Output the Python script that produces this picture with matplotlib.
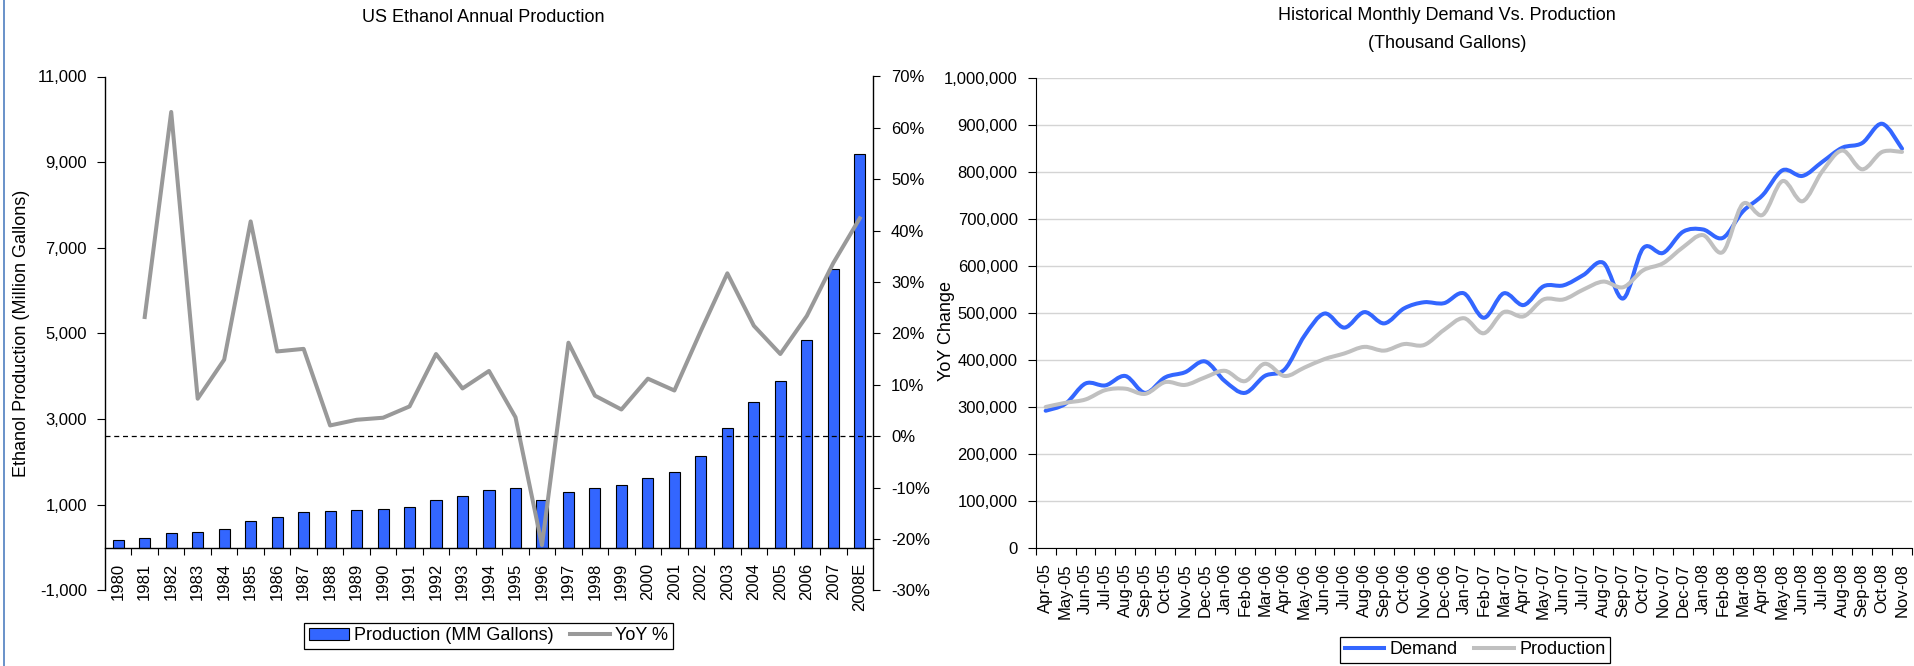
import numpy as np
import matplotlib
matplotlib.use('Agg')
import matplotlib.pyplot as plt
from matplotlib import font_manager
from matplotlib.path import Path
from matplotlib.patches import PathPatch, Patch
from matplotlib.lines import Line2D
from matplotlib.ticker import FuncFormatter, FixedLocator, NullFormatter

plt.rcParams['font.family'] = ['Liberation Sans', 'DejaVu Sans']
_names = {f.name for f in font_manager.fontManager.ttflist}
if 'Liberation Sans Narrow' in _names:
    TICK_FAMILY, TICK = 'Liberation Sans Narrow', 14
else:
    TICK_FAMILY, TICK = 'Liberation Sans', 12
TXT = 13

# ---------------- data ----------------
years = ['1980', '1981', '1982', '1983', '1984', '1985', '1986', '1987', '1988', '1989',
         '1990', '1991', '1992', '1993', '1994', '1995', '1996', '1997', '1998', '1999',
         '2000', '2001', '2002', '2003', '2004', '2005', '2006', '2007', '2008E']
production_mm = [175, 215, 350, 375, 430, 610, 710, 830, 845, 870,
                 900, 950, 1100, 1200, 1350, 1400, 1100, 1300, 1400, 1470,
                 1630, 1770, 2130, 2800, 3400, 3900, 4855, 6500, 9200]
yoy_pct = [np.nan, 23.2, 63.1, 7.3, 14.9, 41.8, 16.5, 17.0, 2.1, 3.2,
           3.6, 5.8, 16.0, 9.3, 12.7, 3.7, -21.2, 18.2, 7.9, 5.2,
           11.2, 8.9, 20.5, 31.7, 21.5, 16.0, 23.4, 33.7, 42.4]

months = ['Apr-05', 'May-05', 'Jun-05', 'Jul-05', 'Aug-05', 'Sep-05', 'Oct-05', 'Nov-05',
          'Dec-05', 'Jan-06', 'Feb-06', 'Mar-06', 'Apr-06', 'May-06', 'Jun-06', 'Jul-06',
          'Aug-06', 'Sep-06', 'Oct-06', 'Nov-06', 'Dec-06', 'Jan-07', 'Feb-07', 'Mar-07',
          'Apr-07', 'May-07', 'Jun-07', 'Jul-07', 'Aug-07', 'Sep-07', 'Oct-07', 'Nov-07',
          'Dec-07', 'Jan-08', 'Feb-08', 'Mar-08', 'Apr-08', 'May-08', 'Jun-08', 'Jul-08',
          'Aug-08', 'Sep-08', 'Oct-08', 'Nov-08']
demand_k = [292, 307, 350, 346, 366, 330, 363, 374, 397, 355, 330, 366, 380, 452, 499,
            469, 502, 478, 510, 523, 521, 542, 490, 542, 517, 557, 559, 581, 607, 531,
            638, 628, 673, 678, 660, 716, 751, 804, 792, 822, 852, 862, 903, 850]
monthly_production_k = [300, 309, 316, 336, 339, 328, 353, 347, 363, 377, 355, 392, 366,
                        384, 402, 414, 428, 420, 434, 432, 464, 489, 457, 502, 493, 529,
                        529, 550, 567, 555, 591, 606, 640, 666, 630, 732, 709, 781, 738,
                        802, 846, 806, 843, 843]

BLUE = '#3366FF'
GRAY_LINE = '#999999'
LIGHT_GRAY = '#C0C0C0'

W, H = 1915, 666
fig = plt.figure(figsize=(W / 100, H / 100), dpi=100)


def rect(x0, y0, x1, y1):
    return [x0 / W, 1 - y1 / H, (x1 - x0) / W, (y1 - y0) / H]


# ---------------- left chart ----------------
ax1 = fig.add_axes(rect(105, 76.5, 873, 590.4))
x = np.arange(len(years))
ax1.bar(x, production_mm, width=0.42, color=BLUE, edgecolor='black', linewidth=0.8, zorder=2)
ax1.set_xlim(-0.5, len(years) - 0.5)
ax1.set_ylim(-1000, 11000)
ax1.set_yticks(np.arange(-1000, 11001, 2000))
ax1.yaxis.set_major_formatter(FuncFormatter(lambda v, p: f'{v:,.0f}'))
ax1.spines['top'].set_visible(False)
ax1.spines['right'].set_visible(False)
ax1.spines['bottom'].set_position(('data', 0))
ax1.spines['bottom'].set_linewidth(1.0)
ax1.spines['left'].set_linewidth(1.0)
ax1.xaxis.set_major_locator(FixedLocator(np.arange(0.5, len(years) - 0.5, 1)))
ax1.xaxis.set_major_formatter(NullFormatter())
ax1.xaxis.set_minor_locator(FixedLocator(x))
ax1.set_xticklabels(years, minor=True, rotation=90)
ax1.tick_params(axis='x', which='minor', length=0, pad=11,
                labelsize=TICK, labelfontfamily=TICK_FAMILY)
ax1.tick_params(axis='x', which='major', length=5, direction='out')
ax1.tick_params(axis='y', length=6, pad=7, labelsize=TICK, labelfontfamily=TICK_FAMILY)
ax1.set_ylabel('Ethanol Production (Million Gallons)', fontsize=TXT)
ax1.yaxis.set_label_coords(-0.0977, 0.5)

ax2 = ax1.twinx()
ax2.plot(x, yoy_pct, color=GRAY_LINE, linewidth=2.9, solid_joinstyle='round', zorder=3)
ax2.axhline(0, color='black', linestyle=(0, (4, 3)), linewidth=0.9, zorder=4)
ax2.set_ylim(-30, 70)
ax2.set_yticks(np.arange(-30, 71, 10))
ax2.yaxis.set_major_formatter(FuncFormatter(lambda v, p: f'{v:.0f}%'))
for s in ['top', 'left', 'bottom']:
    ax2.spines[s].set_visible(False)
ax2.spines['right'].set_linewidth(1.0)
ax2.tick_params(axis='y', length=5, pad=8, labelsize=TICK, labelfontfamily=TICK_FAMILY)

fig.text(483 / W, 1 - 18 / H, 'US Ethanol Annual Production', ha='center', va='center', fontsize=TXT)

h1 = [Patch(facecolor=BLUE, edgecolor='black', linewidth=0.8),
      Line2D([], [], color=GRAY_LINE, linewidth=2.9)]
leg1 = fig.legend(h1, ['Production (MM Gallons)', 'YoY %'], loc='center',
                  bbox_to_anchor=(488.5 / W, 1 - 636 / H), ncol=2, fontsize=TXT,
                  frameon=True, fancybox=False, edgecolor='black', framealpha=1,
                  handlelength=2.2, handleheight=0.6, handletextpad=0.3, columnspacing=0.9,
                  borderpad=0.25, borderaxespad=0)
leg1.get_frame().set_linewidth(0.9)

# ---------------- right chart ----------------
ax3 = fig.add_axes(rect(1035.7, 78.2, 1912, 547.9))
xm = np.arange(len(months))
ax3.set_xlim(-0.5, len(months) - 0.5)
ax3.set_ylim(0, 1000000)
ax3.set_yticks(np.arange(0, 1000001, 100000))
ax3.yaxis.set_major_formatter(FuncFormatter(lambda v, p: f'{v:,.0f}'))
ax3.yaxis.grid(True, color='#D4D4D4', linewidth=1.0)
ax3.set_axisbelow(True)
for s in ['top', 'right']:
    ax3.spines[s].set_visible(False)
ax3.xaxis.set_major_locator(FixedLocator(np.arange(-0.5, len(months) + 0.5, 1)))
ax3.xaxis.set_major_formatter(NullFormatter())
ax3.xaxis.set_minor_locator(FixedLocator(xm))
ax3.set_xticklabels(months, minor=True, rotation=90)
ax3.tick_params(axis='x', which='minor', length=0, pad=11,
                labelsize=TICK, labelfontfamily=TICK_FAMILY)
ax3.tick_params(axis='x', which='major', length=5, direction='out')
ax3.tick_params(axis='y', length=6, pad=7, labelsize=TICK, labelfontfamily=TICK_FAMILY)
ax3.set_ylabel('YoY Change', fontsize=TXT)
ax3.yaxis.set_label_coords(-0.092, 0.462)


def smooth_path(xs, ys):
    pts = np.column_stack([xs, ys]).astype(float)
    n = len(pts)
    verts = [pts[0]]
    codes = [Path.MOVETO]
    for i in range(n - 1):
        p0 = pts[i - 1] if i > 0 else pts[i]
        p1 = pts[i]
        p2 = pts[i + 1]
        p3 = pts[i + 2] if i + 2 < n else pts[i + 1]
        verts += [p1 + (p2 - p0) / 6.0, p2 - (p3 - p1) / 6.0, p2]
        codes += [Path.CURVE4] * 3
    return Path(verts, codes)


dem = np.array(demand_k) * 1000
prod = np.array(monthly_production_k) * 1000
ax3.add_patch(PathPatch(smooth_path(xm, dem), fill=False, edgecolor=BLUE, linewidth=2.9,
                        capstyle='round', joinstyle='round', zorder=3))
ax3.add_patch(PathPatch(smooth_path(xm, prod), fill=False, edgecolor=LIGHT_GRAY, linewidth=2.9,
                        capstyle='round', joinstyle='round', zorder=4))

fig.text(1447 / W, 1 - 15 / H, 'Historical Monthly Demand Vs. Production', ha='center',
         va='center', fontsize=TXT)
fig.text(1447 / W, 1 - 43 / H, '(Thousand Gallons)', ha='center', va='center', fontsize=TXT)

h2 = [Line2D([], [], color=BLUE, linewidth=2.9), Line2D([], [], color=LIGHT_GRAY, linewidth=2.9)]
leg2 = fig.legend(h2, ['Demand', 'Production'], loc='center',
                  bbox_to_anchor=(1475 / W, 1 - 650 / H), ncol=2, fontsize=TXT,
                  frameon=True, fancybox=False, edgecolor='black', framealpha=1,
                  handlelength=2.2, handletextpad=0.3, columnspacing=0.9,
                  borderpad=0.25, borderaxespad=0)
leg2.get_frame().set_linewidth(0.9)

# left border line of the left chart panel
fig.add_artist(Line2D([4 / W, 4 / W], [0, 1], color='#4F7FC0', linewidth=1.2,
                      transform=fig.transFigure))

fig.savefig('out.png', dpi=100)
